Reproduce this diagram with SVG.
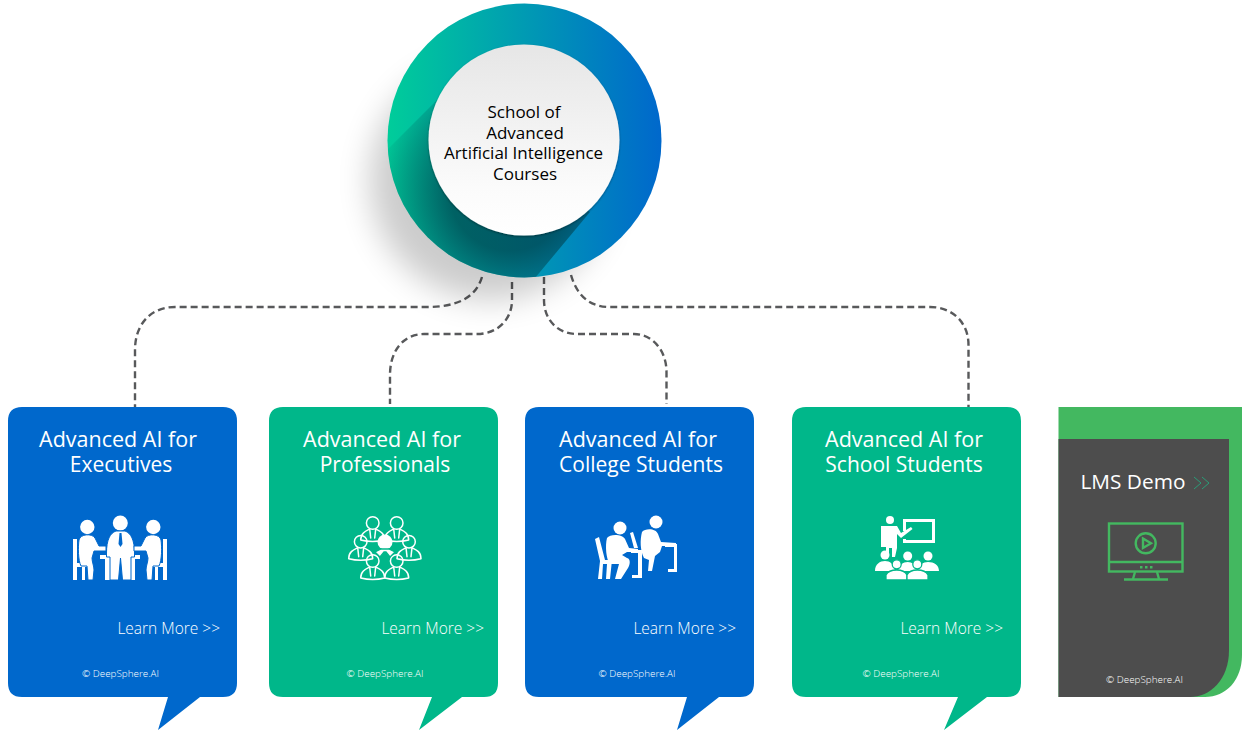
<svg xmlns="http://www.w3.org/2000/svg" width="1250" height="734" viewBox="0 0 1250 734">
<style>
text{font-family:"Open Sans","Liberation Sans",sans-serif}
.t{font-size:21.500px;fill:#fff;text-anchor:middle}
.t2{font-size:21px}
.c{font-size:17px;fill:#000;text-anchor:middle}
.m{font-size:15.500px;fill:#fff;font-weight:300;text-anchor:end}
.f{font-size:9.900px;fill:#fff;font-weight:300;text-anchor:middle}
.conn{fill:none;stroke:#58595b;stroke-width:2.400;stroke-dasharray:7 4}
.blue{fill:#0068cc}.teal{fill:#00b78a}
.w{fill:#fff}.wl{fill:none;stroke:#fff;stroke-width:1.500;stroke-linecap:round;stroke-linejoin:round}
.g{fill:none;stroke:#43b860;stroke-width:2.400}
.sb{stroke:#0068cc;stroke-width:1}
.st{stroke:#00b78a;stroke-width:1.300}
</style>
<defs>
<linearGradient id="ring" x1="0" y1="0" x2="1" y2="0"><stop offset="0" stop-color="#00cd9a"/><stop offset="1" stop-color="#0068cc"/></linearGradient>
<linearGradient id="disc" x1="0" y1="0" x2="0" y2="1"><stop offset="0" stop-color="#e6e6e6"/><stop offset="0.75" stop-color="#fbfbfb"/><stop offset="1" stop-color="#fff"/></linearGradient>
<radialGradient id="long" gradientUnits="userSpaceOnUse" cx="510" cy="190" r="135"><stop offset="0.45" stop-color="#003a44" stop-opacity=".68"/><stop offset="1" stop-color="#003a44" stop-opacity="0"/></radialGradient>
<filter id="soft" x="-50%" y="-50%" width="200%" height="200%"><feGaussianBlur stdDeviation="16"/></filter>
<filter id="ds" x="-20%" y="-20%" width="140%" height="140%"><feDropShadow dx="0" dy="1" stdDeviation="1" flood-color="#000" flood-opacity=".4"/></filter>
<clipPath id="ringclip"><circle cx="524.500" cy="140.500" r="137"/></clipPath>
<g id="p"><circle cx="0" cy="0" r="6.300" class="wl"/><path class="wl" d="M-12 17C-12 10-7 8-3 6L-2 15M12 17C12 10 7 8 3 6L2 15M-12 17Q0 20 12 17"/></g>
</defs>
<g id="connectors">
<path class="conn" d="M482 277C476 297 458 307 427 307H175C150 307 135 325 135 350V407"/>
<path class="conn" d="M512 282V300C512 320 497 334 477 334H424C404 334 390 350 390 375V404"/>
<path class="conn" d="M544 277V300C544 320 558 334 577 334H634C652 334 666.500 350 666.500 372V404"/>
<path class="conn" d="M571 275C577 296 590 307 610 307H930C952 307 968.500 322 968.500 345V407"/>
</g>
<g id="hub">
<circle cx="490" cy="180" r="120" fill="#000" opacity=".2" filter="url(#soft)"/>
<circle cx="524.500" cy="140.500" r="137" fill="url(#ring)"/>
<path clip-path="url(#ringclip)" d="M437 100L380 157V320H500L590 212Z" fill="url(#long)"/>
<circle cx="524" cy="140" r="95.500" fill="url(#disc)" filter="url(#ds)"/>
<text class="c"><tspan x="524" y="118">School of</tspan><tspan x="525" y="138.500">Advanced</tspan><tspan x="523.500" y="159">Artificial Intelligence</tspan><tspan x="525" y="179.500">Courses</tspan></text>
</g>
<g id="card-executives">
<path class="blue" d="M22 407H223Q237 407 237 421V683Q237 697 223 697H200L158 730L168 697H22Q8 697 8 683V421Q8 407 22 407Z"/>
<text class="t"><tspan x="118" y="446.500">Advanced AI for</tspan><tspan class="t2" x="121" y="471.500">Executives</tspan></text>
<g class="w">
<path d="M73 539H77V563H90V567H85V580H82V567H77V580H73Z"/>
<path d="M167 539H163V563H150V567H155V580H158V567H163V580H167Z"/>
<path d="M100 555H140V559H135V580H130V559H110V580H105V559H100Z"/>
<circle cx="87.300" cy="527" r="7.200"/><circle cx="120.300" cy="523" r="7.500"/><circle cx="153.300" cy="527" r="7.200"/>
<path class="sb" d="M106.500 553C106.500 540 110 533 116 531H125C131 533 134.500 540 134.500 553V557H131V580H122.500L120.500 558L118.500 580H110V557H106.500Z"/>
<path class="sb" d="M79 540C80 534 92 533 95 538L99 546H106V551H94L92 558C92 562 94 566 94 570L93 580H88L87 566H81C78 560 78 547 79 540Z"/>
<path class="sb" d="M161 540C160 534 148 533 145 538L141 546H134V551H146L148 558C148 562 146 566 146 570L147 580H152L153 566H159C162 560 162 547 161 540Z"/>
</g>
<path class="blue" d="M119.500 533H121.500L122.500 544L120.500 547L118.500 544Z"/>
<text class="m" x="220" y="634">Learn More &gt;&gt;</text>
<text class="f" x="120.500" y="677">© DeepSphere.AI</text>
</g>
<g id="card-professionals">
<path class="teal" d="M283 407H484Q498 407 498 421V683Q498 697 484 697H462L419 730L432 697H283Q269 697 269 683V421Q269 407 283 407Z"/>
<text class="t"><tspan x="382" y="446.500">Advanced AI for</tspan><tspan class="t2" x="385" y="471.500">Professionals</tspan></text>
<use href="#p" x="372.700" y="523"/><use href="#p" x="396.700" y="523"/><use href="#p" x="360.700" y="541.700"/><use href="#p" x="409" y="541.700"/><use href="#p" x="372.700" y="561"/><use href="#p" x="396.700" y="561"/>
<g class="w"><circle cx="385" cy="542" r="7.500"/><path class="st" d="M381 549H389L395 552L390 557L386 552H384L380 557L375 552Z"/></g>
<text class="m" x="484" y="634">Learn More &gt;&gt;</text>
<text class="f" x="385" y="677">© DeepSphere.AI</text>
</g>
<g id="card-college">
<path class="blue" d="M539 407H740Q754 407 754 421V683Q754 697 740 697H719L677 730L687 697H539Q525 697 525 683V421Q525 407 539 407Z"/>
<text class="t"><tspan x="638" y="446.500">Advanced AI for</tspan><tspan class="t2" x="641" y="471.500">College Students</tspan></text>
<g class="w">
<circle cx="620" cy="528" r="6.500"/><circle cx="656" cy="522" r="6.500"/>
<path d="M607 538C610 534 622 534 625 539L629 548L638 549V552H627L622 555L627 558C631 559 630 565 628 568L621 579H615L619 564H610C606 560 605 545 607 538Z"/>
<path d="M642 532C645 528 656 528 658 534L661 542L676 543V546H662L660 552L655 556L652 571H648L649 560L644 558C640 550 640 540 642 532Z"/>
<path d="M595 539L599 537L605 560H612L610 579H606L607 564H603L602 579H598L600 561Z"/>
<path d="M630 533L633 532L638 548H634Z"/>
<path d="M631 550H642V578H632V575H638V553H631Z"/>
<path d="M665 544H677V572H668V569H674V547H665Z"/>
</g>
<text class="m" x="736" y="634">Learn More &gt;&gt;</text>
<text class="f" x="637" y="677">© DeepSphere.AI</text>
</g>
<g id="card-school">
<path class="teal" d="M806 407H1007Q1021 407 1021 421V683Q1021 697 1007 697H987L944 730L958 697H806Q792 697 792 683V421Q792 407 806 407Z"/>
<text class="t"><tspan x="904" y="446.500">Advanced AI for</tspan><tspan class="t2" x="904" y="471.500">School Students</tspan></text>
<g class="w">
<circle cx="890" cy="520" r="4"/>
<path d="M881 526H897L901 533L911 527L912.500 529L901 538L897 534V548L895 557H892V548H889V553H886V547H881Z"/>
<path d="M903 519H935V543H903V539H906V540H932V522H906V531H903Z"/>
<circle cx="885" cy="555" r="4.500"/><circle cx="907.700" cy="556" r="4.500"/><circle cx="928" cy="556" r="4.500"/>
<path d="M875 571C875 564 880 561 885 561C890 561 894 564 895 571ZM898 571C899 565 903 562 907.700 562C912 562 916 565 917 571ZM918 571C919 565 923 562 928 562C934 562 939 565 939 571Z"/>
<circle cx="896.700" cy="564.300" r="4.500" class="st"/><circle cx="917.300" cy="564.300" r="4.500" class="st"/>
<path class="st" d="M886 580V575C888 571 892 570 896.700 570C901 570 905 571 907 575V580Z"/>
<path class="st" d="M907 580V575C909 571 913 570 917.300 570C922 570 926 571 928 575V580Z"/>
</g>
<text class="m" x="1003" y="634">Learn More &gt;&gt;</text>
<text class="f" x="901" y="677">© DeepSphere.AI</text>
</g>
<g id="lms">
<path d="M1058.500 407H1242V655C1242 680 1226 697 1205 697H1058.500Z" fill="#43b860"/>
<path d="M1058.500 439H1229V650C1229 680 1210 697 1190 697H1058.500Z" fill="#4d4d4d"/>
<text x="1080.500" y="489" font-size="20.800" fill="#fff">LMS Demo</text>
<path d="M1194 477L1201 483L1194 489M1202 477L1209 483L1202 489" fill="none" stroke="#2a9d78" stroke-width="1"/>
<rect class="g" x="1109" y="523.500" width="73.500" height="48"/>
<path class="g" d="M1109 562H1182.500M1135 572L1133 579M1157 572L1159 579"/>
<path class="g" d="M1124 579.500H1168"/>
<circle class="g" cx="1145.700" cy="543.300" r="10"/>
<path class="g" d="M1143 538.500L1151 543.300L1143 548Z" stroke-width="2"/>
<path d="M1140 566h2.500v2.500h-2.500zM1145 566h2.500v2.500h-2.500zM1150 566h2.500v2.500h-2.500z" fill="#43b860"/>
<text class="f" x="1144.500" y="683">© DeepSphere.AI</text>
</g>
</svg>
